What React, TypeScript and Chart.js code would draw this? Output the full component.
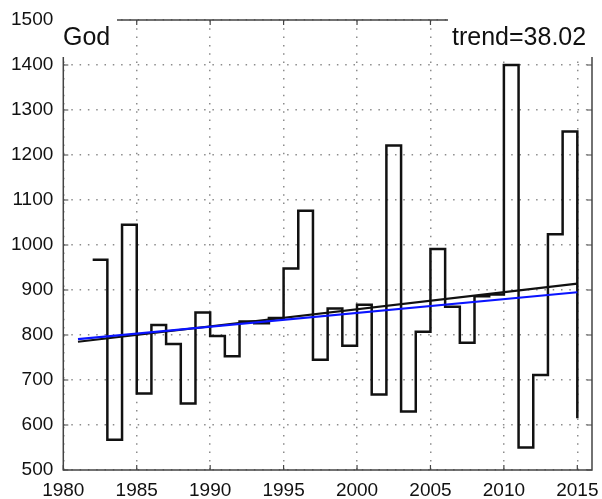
import React, { useEffect, useRef } from "react";
import { Chart, registerables } from "chart.js";

Chart.register(...registerables);

const years = [
  1982, 1983, 1984, 1985, 1986, 1987, 1988, 1989, 1990, 1991, 1992, 1993,
  1994, 1995, 1996, 1997, 1998, 1999, 2000, 2001, 2002, 2003, 2004, 2005,
  2006, 2007, 2008, 2009, 2010, 2011, 2012, 2013, 2014, 2015,
];
const values = [
  967, 567, 1045, 670, 822, 780, 648, 850, 798, 753, 830, 826,
  838, 948, 1076, 745, 859, 776, 867, 668, 1221, 630, 807, 991,
  863, 783, 886, 890, 1400, 550, 711, 1024, 1252, 615,
];
const trendYears = [1981, 2015];
const trendBlack = [785, 914];
const trendBlue = [791, 895];
const xTicks = [1980, 1985, 1990, 1995, 2000, 2005, 2010, 2015];
const yTicks = [500, 600, 700, 800, 900, 1000, 1100, 1200, 1300, 1400, 1500];
const labelLeft = "God";
const labelRight = "trend=38.02";

const FONT = "'Liberation Sans', Arial, Helvetica, sans-serif";

const framePlugin = {
  id: "matlabFrame",
  afterDatasetsDraw(chart: any) {
    const { ctx, chartArea } = chart;
    const { left, right, top, bottom } = chartArea;
    const xs = chart.scales.x;
    const ys = chart.scales.y;
    ctx.save();
    ctx.strokeStyle = "#444";
    ctx.lineWidth = 1.5;
    ctx.beginPath();
    ctx.rect(left, top, right - left, bottom - top);
    ctx.stroke();
    ctx.lineWidth = 1.2;
    ctx.beginPath();
    const tl = 5;
    xTicks.forEach((v) => {
      const x = xs.getPixelForValue(v);
      ctx.moveTo(x, bottom);
      ctx.lineTo(x, bottom - tl);
      ctx.moveTo(x, top);
      ctx.lineTo(x, top + tl);
    });
    yTicks.forEach((v) => {
      const y = ys.getPixelForValue(v);
      ctx.moveTo(left, y);
      ctx.lineTo(left + tl, y);
      ctx.moveTo(right, y);
      ctx.lineTo(right - tl, y);
    });
    ctx.stroke();
    // label boxes
    ctx.fillStyle = "#fff";
    ctx.fillRect(left - 2, 0, 117 - left + 2, 57);
    ctx.fillRect(448, 0, 602 - 448, 57);
    ctx.fillStyle = "#111";
    ctx.font = `25px ${FONT}`;
    ctx.textBaseline = "alphabetic";
    ctx.textAlign = "left";
    ctx.fillText(labelLeft, 63, 45);
    ctx.fillText(labelRight, 452, 45);
    ctx.restore();
  },
};

export default function App() {
  const ref = useRef<HTMLCanvasElement | null>(null);
  useEffect(() => {
    document.body.style.margin = "0";
    const canvas = ref.current;
    if (!canvas) return;
    const chart = new Chart(canvas, {
      type: "line",
      data: {
        datasets: [
          {
            data: trendYears.map((x, i) => ({ x, y: trendBlue[i] })),
            borderColor: "#0a14ff",
            borderWidth: 2.2,
            pointRadius: 0,
            fill: false,
          },
          {
            data: trendYears.map((x, i) => ({ x, y: trendBlack[i] })),
            borderColor: "#111",
            borderWidth: 2.2,
            pointRadius: 0,
            fill: false,
          },
          {
            data: years.map((x, i) => ({ x, y: values[i] })),
            borderColor: "#111",
            borderWidth: 2.5,
            pointRadius: 0,
            stepped: "before",
            fill: false,
          },
        ],
      },
      options: {
        responsive: false,
        animation: false,
        devicePixelRatio: 1,
        layout: { padding: { top: 20, right: 10, left: 0, bottom: 0 } },
        plugins: { legend: { display: false }, tooltip: { enabled: false } },
        scales: {
          x: {
            type: "linear",
            min: 1980,
            max: 2016,
            afterBuildTicks: (s: any) => {
              s.ticks = xTicks.map((v) => ({ value: v }));
            },
            afterFit: (s: any) => {
              s.height = 29;
              s.paddingLeft = 0;
              s.paddingRight = 0;
            },
            grid: {
              color: "#8c8c8c",
              lineWidth: 1.5,
              drawTicks: false,
            },
            border: { display: false, dash: [1.5, 6.8] },
            ticks: {
              color: "#111",
              font: { family: FONT, size: 19 },
              padding: 9,
              maxRotation: 0,
              autoSkip: false,
              callback: (v: any) => String(v),
            },
          },
          y: {
            type: "linear",
            min: 500,
            max: 1500,
            afterBuildTicks: (s: any) => {
              s.ticks = yTicks.map((v) => ({ value: v }));
            },
            afterFit: (s: any) => {
              s.width = 63.3;
              s.paddingTop = 0;
              s.paddingBottom = 0;
            },
            grid: {
              color: "#8c8c8c",
              lineWidth: 1.5,
              drawTicks: false,
            },
            border: { display: false, dash: [1.5, 6.8] },
            ticks: {
              color: "#111",
              font: { family: FONT, size: 19 },
              padding: 10,
              autoSkip: false,
              callback: (v: any) => String(v),
            },
          },
        },
      },
      plugins: [framePlugin],
    } as any);
    return () => chart.destroy();
  }, []);
  return (
    <div style={{ position: "absolute", left: 0, top: 0, width: 602, height: 499 }}>
      <canvas ref={ref} width={602} height={499} style={{ display: "block" }} />
    </div>
  );
}
